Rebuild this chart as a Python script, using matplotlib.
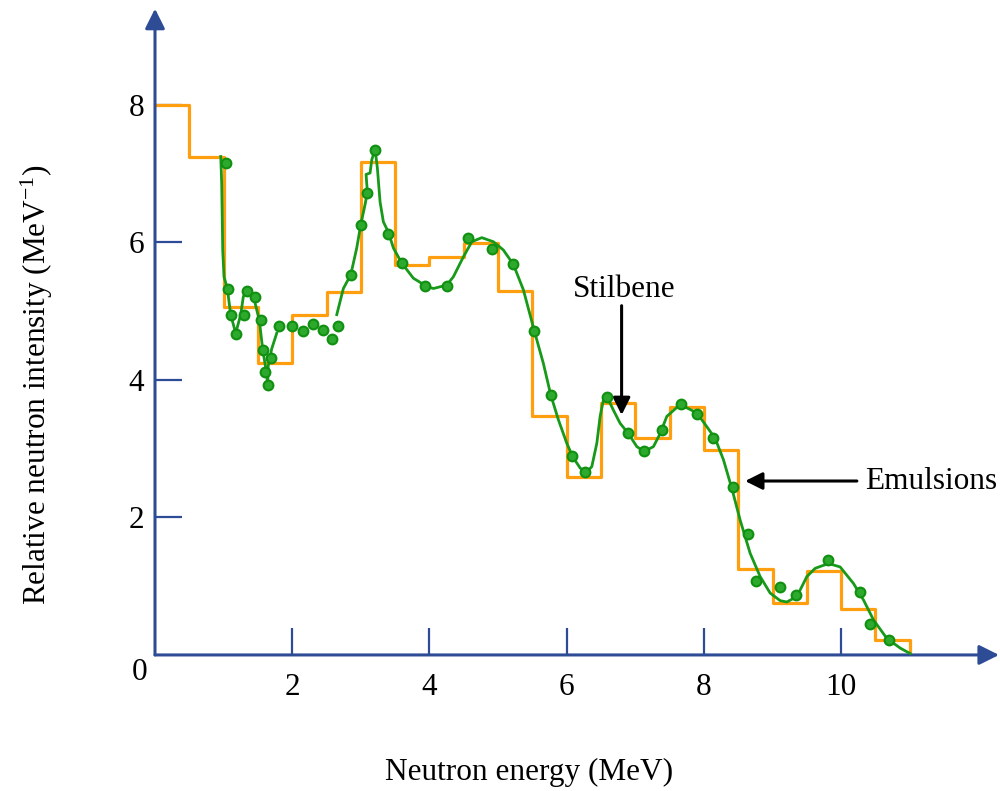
import matplotlib.pyplot as plt
import numpy as np

plt.rcParams['font.family'] = 'serif'
plt.rcParams['font.serif'] = ['Liberation Serif', 'DejaVu Serif']
plt.rcParams['mathtext.fontset'] = 'custom'
plt.rcParams['mathtext.rm'] = 'Liberation Serif'
plt.rcParams['mathtext.default'] = 'regular'

# emulsion histogram (bin edges in MeV, heights)
bin_edges = [0.0, 0.5, 1.0, 1.5, 2.0, 2.5, 3.0, 3.5, 4.0, 4.5, 5.0, 5.5,
             6.0, 6.5, 7.0, 7.5, 8.0, 8.5, 9.0, 9.5, 10.0, 10.5, 11.0]
bin_heights = [8.0, 7.24, 5.06, 4.25, 4.95, 5.28, 7.17, 5.67, 5.79, 5.99, 5.29,
               3.48, 2.59, 3.67, 3.16, 3.61, 2.98, 1.25, 0.76, 1.22, 0.67, 0.22]

# stilbene data points
stil_x = [1.035, 1.060, 1.103, 1.181, 1.297, 1.337, 1.453, 1.541, 1.570, 1.603,
          1.687, 1.647, 1.803, 1.993, 2.153, 2.299, 2.453, 2.576, 2.663, 2.853,
          2.999, 3.095, 3.211, 3.392, 3.596, 3.940, 4.252, 4.567, 4.908, 5.223,
          5.529, 5.768, 6.083, 6.273, 6.585, 6.895, 7.124, 7.395, 7.668, 7.905,
          8.138, 8.421, 8.644, 8.761, 9.111, 9.344, 9.810, 10.281, 10.427, 10.700]
stil_y = [7.16, 5.33, 4.94, 4.67, 4.94, 5.30, 5.21, 4.87, 4.44, 4.12,
          4.32, 3.93, 4.79, 4.79, 4.71, 4.82, 4.72, 4.59, 4.79, 5.53,
          6.26, 6.72, 7.35, 6.13, 5.70, 5.37, 5.37, 6.07, 5.91, 5.68,
          4.71, 3.78, 2.90, 2.66, 3.75, 3.23, 2.97, 3.27, 3.65, 3.51,
          3.16, 2.44, 1.76, 1.07, 0.99, 0.87, 1.38, 0.91, 0.45, 0.22]

# fitted curve, low-energy piece
fit1_x = [0.958, 0.972, 0.987, 1.006, 1.054, 1.103, 1.176, 1.249, 1.287, 1.337,
          1.433, 1.520, 1.570, 1.618, 1.643, 1.650, 1.700, 1.774]
fit1_y = [7.25, 6.86, 5.89, 5.50, 5.33, 4.95, 4.68, 4.95, 5.21, 5.31,
          5.22, 4.87, 4.44, 4.15, 3.93, 4.20, 4.45, 4.68]

# fitted curve, main piece
fit2_x = [2.649, 2.745, 2.853, 2.940, 2.999, 3.061, 3.095, 3.076, 3.134, 3.159,
          3.207, 3.241, 3.280, 3.328, 3.401, 3.474, 3.596, 3.765, 3.961, 4.057,
          4.252, 4.348, 4.494, 4.617, 4.762, 4.932, 5.077, 5.223, 5.369, 5.529,
          5.660, 5.768, 5.879, 6.001, 6.089, 6.195, 6.283, 6.366, 6.439, 6.487,
          6.535, 6.585, 6.681, 6.778, 6.899, 7.022, 7.128, 7.264, 7.362, 7.459,
          7.605, 7.701, 7.897, 8.042, 8.163, 8.284, 8.407, 8.528, 8.673, 8.819,
          8.965, 9.111, 9.208, 9.354, 9.500, 9.621, 9.815, 9.985, 10.179, 10.325,
          10.471, 10.666, 10.860, 11.006]
fit2_y = [4.95, 5.33, 5.53, 5.92, 6.26, 6.55, 6.73, 6.99, 7.01, 7.20,
          7.36, 7.08, 6.59, 6.30, 6.15, 5.92, 5.70, 5.48, 5.36, 5.33,
          5.38, 5.50, 5.79, 6.01, 6.07, 6.01, 5.89, 5.68, 5.31, 4.71,
          4.24, 3.78, 3.42, 3.08, 2.88, 2.72, 2.65, 2.74, 3.08, 3.47,
          3.71, 3.76, 3.56, 3.37, 3.22, 3.03, 2.96, 3.03, 3.22, 3.47,
          3.60, 3.62, 3.52, 3.32, 3.15, 2.84, 2.42, 1.96, 1.48, 1.14,
          0.90, 0.79, 0.77, 0.85, 1.14, 1.26, 1.33, 1.28, 1.04, 0.80,
          0.51, 0.24, 0.10, 0.02]

x_ticks = [2, 4, 6, 8, 10]
y_ticks = [2, 4, 6, 8]

blue = '#2E4C96'
orange = '#FF9E0F'
green = '#17991A'

fig = plt.figure(figsize=(10, 7.91), dpi=100)
ax = fig.add_axes([0.155, 0.172, 0.844, 0.817])
ax.set_xlim(0, 12.3)
ax.set_ylim(0, 9.4)

for s in ax.spines.values():
    s.set_visible(False)

# axes with arrow heads
ax.annotate('', xy=(12.3, 0), xytext=(0, 0), annotation_clip=False,
            arrowprops=dict(arrowstyle='-|>', color=blue, lw=2.2,
                            mutation_scale=30, shrinkA=0, shrinkB=0))
ax.annotate('', xy=(0, 9.4), xytext=(0, 0), annotation_clip=False,
            arrowprops=dict(arrowstyle='-|>', color=blue, lw=2.2,
                            mutation_scale=30, shrinkA=0, shrinkB=0))

ax.set_xticks(x_ticks)
ax.set_yticks(y_ticks)
ax.tick_params(direction='in', length=19.5, width=1.6, color=blue,
               labelsize=22.5, labelcolor='black')
ax.tick_params(axis='x', pad=13)
ax.tick_params(axis='y', pad=8)
ax.text(-0.22, -0.25, '0', fontsize=22.5, ha='center', va='center', clip_on=False)

# histogram from emulsions
sx = np.append(bin_edges, bin_edges[-1])
sy = np.append(np.append(bin_heights, bin_heights[-1]), 0)
ax.step(sx, sy, where='post', color=orange, lw=2.3, zorder=2)

# stilbene fit and points
ax.plot(fit1_x, fit1_y, color=green, lw=2.0, zorder=3)
ax.plot(fit2_x, fit2_y, color=green, lw=2.0, zorder=3)
ax.plot(stil_x, stil_y, 'o', ms=7, mfc='#2DAA2D', mec='#109010', mew=1.5, zorder=4)

ax.text(6.84, 5.31, 'Stilbene', fontsize=22.5, ha='center', va='center')
ax.annotate('', xy=(6.80, 3.49), xytext=(6.80, 5.08),
            arrowprops=dict(arrowstyle='-|>', color='black', lw=2.2,
                            mutation_scale=26, shrinkA=0, shrinkB=0))
ax.annotate('Emulsions', xy=(8.60, 2.53), xytext=(10.35, 2.53),
            fontsize=22.5, ha='left', va='center', annotation_clip=False,
            arrowprops=dict(arrowstyle='-|>', color='black', lw=2.2,
                            mutation_scale=26, shrinkA=4, shrinkB=0))

ax.set_xlabel('Neutron energy (MeV)', fontsize=22.5)
ax.xaxis.set_label_coords(0.443, -0.16)
ax.set_ylabel('Relative neutron intensity (MeV$^{-1}$)', fontsize=22.5)
ax.yaxis.set_label_coords(-0.118, 0.418)

fig.savefig('out.png', dpi=100)
